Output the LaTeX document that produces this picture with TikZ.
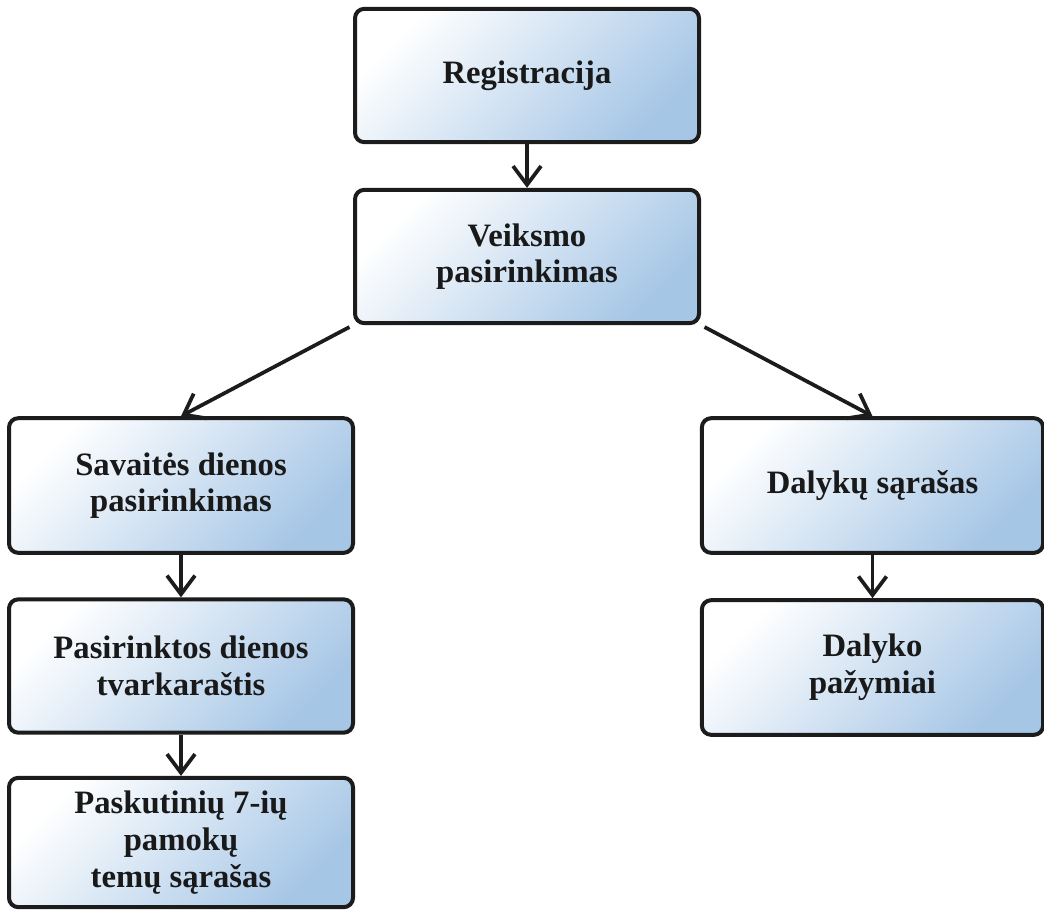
\documentclass[tikz,border=0pt]{standalone}
\usepackage{fontspec}
\setmainfont{Liberation Serif}
\usetikzlibrary{arrows.meta}
\definecolor{boxblue}{HTML}{A6C6E6}
\definecolor{edgecol}{HTML}{1C1C1C}
\tikzset{
  flowbox/.style={rectangle, rounded corners=7pt, draw=edgecol, line width=3pt,
    top color=white, bottom color=boxblue, middle color=boxblue!50, shading angle=45,
    minimum width=258pt, minimum height=100pt, align=center,
    font=\fontsize{24.5}{27.5}\selectfont\bfseries, text=black!90},
  flowarrow/.style={draw=edgecol, line width=2.8pt, -{Straight Barb[length=14pt,width=21pt,line width=2.8pt]}}
}
\begin{document}
\begin{tikzpicture}[x=0.75pt, y=-0.75pt]
\useasboundingbox (0,0) rectangle (1044,910);
\node[flowbox] (reg) at (527,75.5) {Registracija};
\node[flowbox] (veik) at (527,256.5) {Veiksmo\\pasirinkimas};
\node[flowbox, minimum height=101pt] (sav) at (181,485.5) {Savaitės dienos\\pasirinkimas};
\node[flowbox] (pas) at (181,666) {Pasirinktos dienos\\tvarkaraštis};
\node[flowbox, minimum height=97pt] (pask) at (181,842.5) {Paskutinių 7-ių\\pamokų\\temų sąrašas};
\node[flowbox, minimum width=256pt, minimum height=101pt] (dal) at (872.5,485.5) {Dalykų sąrašas};
\node[flowbox, minimum width=256pt, minimum height=101pt] (dalp) at (872.5,667.5) {Dalyko\\pažymiai};
\draw[flowarrow] (reg.south) -- (veik.north);
\draw[flowarrow, shorten <=3pt] (veik.south west) -- (sav.north);
\draw[flowarrow, shorten <=3pt] (veik.south east) -- (dal.north);
\draw[flowarrow] (sav.south) -- (pas.north);
\draw[flowarrow] (pas.south) -- (pask.north);
\draw[flowarrow] (dal.south) -- (dalp.north);
\end{tikzpicture}
\end{document}
